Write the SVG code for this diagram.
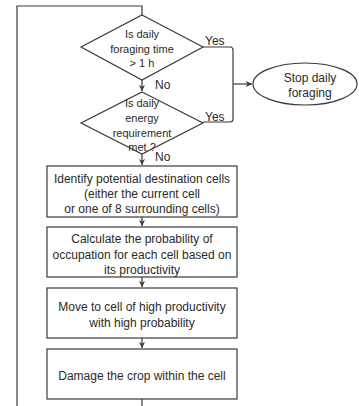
<svg xmlns="http://www.w3.org/2000/svg" width="359" height="406" viewBox="0 0 359 406">
<style>
.shape{fill:#ffffff;stroke:#3a3a3a;stroke-width:1.2}
.line{fill:none;stroke:#3a3a3a;stroke-width:1.2}
text{font-family:"Liberation Sans",Arial,sans-serif;font-size:12px;fill:#2a2a2a;text-anchor:middle}
.d{font-size:11px}
.lbl{text-anchor:start;font-size:12px}
</style>
<defs>
<marker id="ah" viewBox="0 0 8 8" refX="7" refY="4" markerWidth="7" markerHeight="7" markerUnits="userSpaceOnUse" orient="auto">
<path d="M0,0.5 L7,4 L0,7.5 L2,4 z" fill="#3a3a3a"/>
</marker>
</defs>
<rect width="359" height="406" fill="#ffffff"/>
<g id="connectors">
<path class="line" d="M142,399 V406"/>
<path class="line" d="M17,406 V6 H142 V15"/>
<path class="line" d="M142,80 V91" marker-end="url(#ah)"/>
<path class="line" d="M203,47 H230 Q233,47 233,50 V119 Q233,122 230,122 H203"/>
<path class="line" d="M233,84 H252" marker-end="url(#ah)"/>
<path class="line" d="M142,154 V165" marker-end="url(#ah)"/>
<path class="line" d="M142,217 V226" marker-end="url(#ah)"/>
<path class="line" d="M142,277 V287" marker-end="url(#ah)"/>
<path class="line" d="M142,338 V348" marker-end="url(#ah)"/>
<text class="lbl" x="205" y="45">Yes</text>
<text class="lbl" x="205" y="121">Yes</text>
<text class="lbl" x="155" y="89">No</text>
<text class="lbl" x="155" y="161">No</text>
</g>
<g id="decision1">
<polygon class="shape" points="142,15 203,47 142,80 81,47"/>
<text class="d" x="142" y="38">Is daily</text>
<text class="d" x="142" y="53">foraging time</text>
<text class="d" x="142" y="67">&gt; 1 h</text>
</g>
<g id="decision2">
<polygon class="shape" points="142,92 203,123 142,154 81,123"/>
<text class="d" x="142" y="107">Is daily</text>
<text class="d" x="142" y="122">energy</text>
<text class="d" x="142" y="137">requirement</text>
<text class="d" x="142" y="151">met ?</text>
</g>
<g id="stop">
<ellipse class="shape" cx="305" cy="84" rx="52" ry="21"/>
<text x="310" y="82">Stop daily</text>
<text x="310" y="97">foraging</text>
</g>
<g id="identify">
<rect class="shape" x="47" y="166" width="190" height="51"/>
<text x="142" y="183">Identify potential destination cells</text>
<text x="142" y="198">(either the current cell</text>
<text x="142" y="213">or one of 8 surrounding cells)</text>
</g>
<g id="calculate">
<rect class="shape" x="47" y="227" width="190" height="50"/>
<text x="142" y="243">Calculate the probability of</text>
<text x="142" y="259">occupation for each cell based on</text>
<text x="142" y="274">its productivity</text>
</g>
<g id="move">
<rect class="shape" x="47" y="288" width="190" height="50"/>
<text x="142" y="311">Move to cell of high productivity</text>
<text x="142" y="327">with high probability</text>
</g>
<g id="damage">
<rect class="shape" x="47" y="349" width="190" height="50"/>
<text x="142" y="380">Damage the crop within the cell</text>
</g>
</svg>
